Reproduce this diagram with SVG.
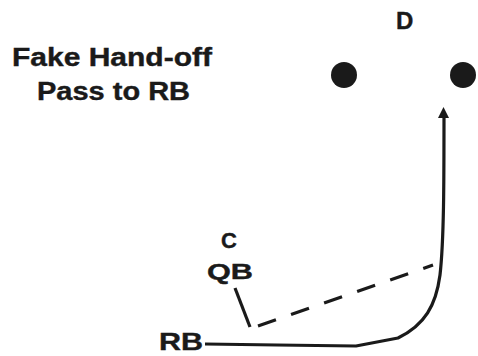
<svg xmlns="http://www.w3.org/2000/svg" width="478" height="356" viewBox="0 0 478 356">
  <style>
    .lbl { font-family: "Liberation Sans", Arial, sans-serif; font-weight: bold; fill: #1a1a1a; stroke: #1a1a1a; stroke-width: 0.4; }
    .route { fill: none; stroke: #1a1a1a; stroke-width: 3.2; stroke-linecap: butt; stroke-linejoin: round; }
    .dot { fill: #1a1a1a; }
  </style>
  <rect width="478" height="356" fill="#ffffff"/>

  <g id="title">
    <text class="lbl" x="12" y="66" font-size="25" textLength="200" lengthAdjust="spacingAndGlyphs">Fake Hand-off</text>
    <text class="lbl" x="37" y="100" font-size="25" textLength="153" lengthAdjust="spacingAndGlyphs">Pass to RB</text>
  </g>

  <g id="defense">
    <text class="lbl" x="396" y="29" font-size="24">D</text>
    <circle class="dot" cx="344" cy="75" r="13"/>
    <circle class="dot" cx="463" cy="75" r="13"/>
  </g>

  <g id="center">
    <text class="lbl" x="221" y="248" font-size="22">C</text>
  </g>
  <g id="quarterback">
    <text class="lbl" x="207" y="279" font-size="22" textLength="46" lengthAdjust="spacingAndGlyphs">QB</text>
  </g>
  <g id="runningback">
    <text class="lbl" x="159" y="350" font-size="23" textLength="44" lengthAdjust="spacingAndGlyphs">RB</text>
  </g>

  <g id="connectors">
    <!-- QB drop -->
    <path class="route" d="M235 288 L250 327"/>
    <!-- pass lane -->
    <path class="route" d="M258 326 L433 265" stroke-width="4" stroke-dasharray="19 16"/>
    <!-- RB route -->
    <path class="route" d="M205 344 L277 345 L356 346 L398 338 C425 325 436 305 440 275 C444 240 444 180 444 116"/>
    <polygon class="dot" points="443.5,107 449,118 438,118"/>
  </g>
</svg>
